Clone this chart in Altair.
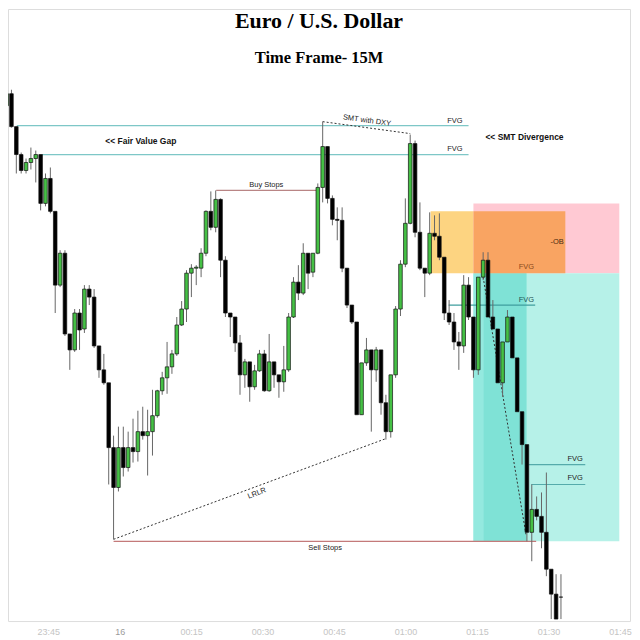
import altair as alt
import pandas as pd

# ---------------- data (1-minute candles, price in points) ----------------
opens = [552,535,547,514,486,470,478,482,486,437,
         462,429,355,387,306,290,327,311,351,343,
         294,270,257,192,152,192,172,192,188,208,
         204,208,224,249,262,273,286,315,331,367,
         372,372,387,429,413,441,380,327,323,297,
         265,278,253,269,286,249,278,265,258,270,
         323,358,347,387,368,387,453,494,442,421,
         420,372,335,318,225,277,290,270,290,237,
         208,265,331,376,417,497,408,372,367,407,
         404,383,327,318,298,294,355,323,270,363,
         380,323,311,257,298,323,282,228,195,107,
         130,123,107,70,45,42]
highs = [555,550,551,514,488,482,493,490,486,467,
         473,429,390,390,306,331,331,355,355,351,
         294,286,257,204,213,213,208,221,229,233,
         230,250,250,268,298,290,323,339,370,376,
         375,392,430,449,450,442,384,327,323,305,
         281,278,275,290,290,306,278,265,294,327,
         363,375,397,387,387,457,519,494,445,433,
         433,372,335,318,277,302,290,293,290,245,
         265,334,380,442,506,500,438,372,428,425,
         427,383,340,327,308,365,363,323,363,388,
         388,340,311,298,330,323,282,228,195,155,
         143,147,167,70,65,65]
lows = [532,530,513,467,467,467,471,458,430,434,
        427,327,353,304,270,288,290,307,335,292,
        262,255,155,100,148,163,168,177,178,200,
        164,184,222,245,246,266,284,314,318,343,
        355,363,384,410,408,363,323,303,288,245,
        252,238,250,268,248,248,252,242,248,268,
        322,340,345,351,363,386,438,437,415,400,
        368,332,316,225,225,274,208,258,225,200,
        202,262,324,373,416,403,370,343,365,400,
        380,320,315,290,270,287,320,262,265,360,
        323,311,257,243,298,282,228,175,98,78,
        119,91,63,20,20,20]
closes = [535,547,514,486,470,478,482,486,437,462,
          429,355,387,306,290,327,310,351,343,294,
          270,257,192,152,192,172,192,188,208,204,
          208,224,249,262,273,286,315,331,367,372,
          373,387,429,413,441,380,327,323,297,265,
          278,253,269,286,249,278,265,258,270,323,
          358,347,387,367,387,453,494,442,421,420,
          372,335,318,225,277,290,270,290,237,208,
          265,331,376,417,497,408,372,367,407,404,
          383,327,318,298,294,355,323,270,363,380,
          323,311,257,298,323,282,228,195,107,130,
          123,107,70,45,20,42]

tick_minutes = [-15, 0, 15, 30, 45, 60, 75, 90, 105]
tick_labels = ["23:45", "16", "00:15", "00:30", "00:45", "01:00", "01:15", "01:30", "01:45"]

# zones: (bar from, bar to, price top, price bottom, name)
zone_b1 = [97.0, 97.0, 97.0, 99.1, 88.2, 97.0]
zone_b2 = [127.0, 127.0, 107.9, 107.9, 97.0, 115.9]
zone_p1 = [437, 367, 367, 367, 429, 429]
zone_p2 = [367, 98, 98, 98, 367, 367]
zone_name = ["ob", "fvg_light", "fvg_mid", "fvg_dark", "supply", "overlap"]

# horizontal levels: (bar from, bar to, price, name)
lvl_b1 = [3.1, 8.2, 44.1, 23.0, 91.9, 108.3, 108.9]
lvl_b2 = [96.0, 96.0, 64.8, 109.9, 109.7, 120.0, 120.0]
lvl_p = [515, 486, 450, 98, 335, 175, 155]
lvl_name = ["fvg", "fvg", "buy", "sell", "fvg_mid", "fvg_low", "fvg_low"]

# dotted connectors
dot_b1 = [66.0, 23.0, 99.0]
dot_b2 = [84.0, 79.0, 107.8]
dot_p1 = [519, 100, 363]
dot_p2 = [507, 201, 105]

# annotation texts
note_text = ["FVG", "FVG", "SMT with DXY", "Buy Stops", "-OB", "FVG", "FVG", "FVG", "FVG",
             "Sell Stops", "LRLR"]
note_b = [93.2, 93.2, 75.1, 54.4, 114.2, 107.9, 107.9, 117.9, 117.9, 66.5, 52.5]
note_p = [520, 492, 520, 455, 398, 373, 340, 181, 161, 91, 146]
bold_text = ["<< Fair Value Gap", "<< SMT Divergence"]
bold_b = [28.6, 107.5]
bold_p = [500, 504]

# ---------------- styles ----------------
zone_colors = {"ob": "#ffc9d3", "fvg_light": "#b6f1e8", "fvg_mid": "#94e9df",
               "fvg_dark": "#7fe2d6", "supply": "#fdd481", "overlap": "#f9a462"}
lvl_colors = {"fvg": "#7ec7c7", "buy": "#b98585", "sell": "#c47a7a",
              "fvg_mid": "#3f9e9e", "fvg_low": "#55abab"}
note_colors = ["#222", "#222", "#222", "#222", "#4a2a10", "#8a4a1c", "#1f5555",
               "#222", "#222", "#222", "#222"]
note_angles = [0, 0, 8, 0, 0, 0, 0, 0, 0, 0, 339]

W, H = 624, 614
bar_scale = alt.Scale(domain=[1.29, 129.2], nice=False, zero=False, padding=0)
y_scale = alt.Scale(domain=[18, 632], nice=False, zero=False, padding=0)

candles = pd.DataFrame({"bar": list(range(len(opens))), "open": opens, "high": highs,
                        "low": lows, "close": closes})
candles["up"] = candles["close"] >= candles["open"]

zones = pd.DataFrame({"b1": zone_b1, "b2": zone_b2, "p1": zone_p1, "p2": zone_p2,
                      "c": [zone_colors[n] for n in zone_name]})
levels = pd.DataFrame({"b1": lvl_b1, "b2": lvl_b2, "p": lvl_p,
                       "c": [lvl_colors[n] for n in lvl_name]})
dots = pd.DataFrame({"b1": dot_b1, "b2": dot_b2, "p1": dot_p1, "p2": dot_p2})
notes = pd.DataFrame({"t": note_text, "b": note_b, "p": note_p, "c": note_colors,
                      "a": note_angles})
bolds = pd.DataFrame({"t": bold_text, "b": bold_b, "p": bold_p})

X = lambda f: alt.X(f, type="quantitative", scale=bar_scale, axis=None)
Y = lambda f: alt.Y(f, type="quantitative", scale=y_scale, axis=None)

zone_layer = alt.Chart(zones).mark_rect(clip=True).encode(
    x=X("b1"), x2="b2", y=Y("p1"), y2="p2", color=alt.Color("c:N", scale=None))

level_layer = alt.Chart(levels).mark_rule(strokeWidth=1.2, clip=True).encode(
    x=X("b1"), x2="b2", y=Y("p"), color=alt.Color("c:N", scale=None))

dot_layer = alt.Chart(dots).mark_rule(strokeWidth=1, strokeDash=[2, 2], color="#333").encode(
    x=X("b1"), x2="b2", y=Y("p1"), y2="p2")

wick_layer = alt.Chart(candles).mark_rule(color="#666666", strokeWidth=1, clip=True).encode(
    x=X("bar"), y=Y("low"), y2="high")

body_layer = alt.Chart(candles).mark_bar(size=3.6, stroke="#111", strokeWidth=0.7,
                                          clip=True).encode(
    x=X("bar"), y=Y("open"), y2="close",
    color=alt.condition("datum.up", alt.value("#45c045"), alt.value("#000000")))

note_layer = alt.Chart(notes).mark_text(font="Liberation Sans", fontSize=7.5).encode(
    x=X("b"), y=Y("p"), text="t:N", color=alt.Color("c:N", scale=None),
    angle=alt.Angle("a:Q", scale=None))

bold_layer = alt.Chart(bolds).mark_text(font="Liberation Sans", fontSize=8.5,
                                         fontWeight="bold", color="#111").encode(
    x=X("b"), y=Y("p"), text="t:N")

title_layer = alt.Chart(pd.DataFrame({"t": ["Euro / U.S. Dollar"]})).mark_text(
    font="Liberation Serif", fontSize=22, fontWeight="bold", color="#000").encode(
    x=alt.value(312), y=alt.value(12), text="t:N")
sub_layer = alt.Chart(pd.DataFrame({"t": ["Time Frame- 15M"]})).mark_text(
    font="Liberation Serif", fontSize=16.5, fontWeight="bold", color="#000").encode(
    x=alt.value(312), y=alt.value(49), text="t:N")

label_expr = " : ".join(f"datum.value == {m} ? '{l}'" for m, l in zip(tick_minutes, tick_labels)) + " : ''"

axis_layer = alt.Chart(pd.DataFrame({"m": tick_minutes})).mark_text(text="").encode(
    x=alt.X("m:Q", scale=alt.Scale(domain=[-23.43, 107.11], nice=False, zero=False, padding=0),
            axis=alt.Axis(values=tick_minutes, labelExpr=label_expr, orient="bottom",
                          domain=False, ticks=False, grid=False, title=None,
                          labelFont="Liberation Sans", labelFontSize=9,
                          labelPadding=6, labelFlush=False,
                          labelColor={"condition": {"test": "datum.value == 0",
                                                    "value": "#9a9a9a"},
                                      "value": "#c4c4c4"})),
    y=alt.value(300))

main = alt.layer(zone_layer, level_layer, dot_layer, wick_layer, body_layer,
                 note_layer, bold_layer, title_layer, sub_layer)

chart = alt.layer(main, axis_layer).resolve_scale(x="independent").properties(
    width=W, height=H, padding=0
).configure_view(strokeWidth=0).configure(background="white")

chart.save("out.html", embed_options={"renderer": "svg", "actions": False})
